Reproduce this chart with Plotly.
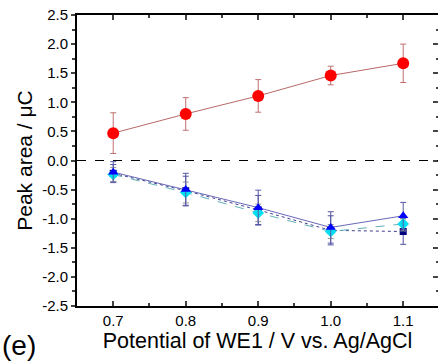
import plotly.graph_objects as go

potential = [0.7, 0.8, 0.9, 1.0, 1.1]

red_vals = [0.47, 0.80, 1.11, 1.46, 1.67]
red_err = [0.35, 0.28, 0.28, 0.16, 0.33]

tri_vals = [-0.20, -0.50, -0.81, -1.15, -0.95]
tri_err = [0.18, 0.28, 0.30, 0.27, 0.23]

sq_vals = [-0.22, -0.52, -0.85, -1.20, -1.22]
sq_err = [0.15, 0.25, 0.25, 0.25, 0.22]

dia_vals = [-0.24, -0.55, -0.90, -1.22, -1.09]
dia_err = [0.12, 0.18, 0.15, 0.12, 0.12]

y_ticks = [-2.5, -2.0, -1.5, -1.0, -0.5, 0.0, 0.5, 1.0, 1.5, 2.0, 2.5]
x_ticks = [0.7, 0.8, 0.9, 1.0, 1.1]

fig = go.Figure()

def add(vals, err, mcolor, lcolor, ecolor, symbol, dash, size):
    fig.add_trace(go.Scatter(
        x=potential, y=vals, mode="lines+markers",
        line=dict(color=lcolor, width=1, dash=dash),
        marker=dict(color=mcolor, symbol=symbol, size=size),
        error_y=dict(type="data", array=err, color=ecolor, thickness=1, width=3),
        showlegend=False))

add(sq_vals, sq_err, "#000080", "#404090", "#5050a0", "square", "dot", 7)
add(dia_vals, dia_err, "#00e0f0", "#60b0b8", "#909898", "diamond", "dash", 9)
add(tri_vals, tri_err, "#0000ff", "#6868b8", "#5858a8", "triangle-up", "solid", 9)
add(red_vals, red_err, "#ff0000", "#b86868", "#c07070", "circle", "solid", 12)

fig.add_hline(y=0, line=dict(color="black", width=1.2, dash="dash"))

# dummy trace to anchor right axis
fig.add_trace(go.Scatter(x=[], y=[], yaxis="y2", showlegend=False))

font = "Liberation Sans, Arial, sans-serif"
fig.update_layout(
    width=438, height=363,
    margin=dict(l=77, r=0, t=15, b=57),
    plot_bgcolor="white", paper_bgcolor="white",
    font=dict(family=font, color="black"),
    xaxis=dict(range=[0.65, 1.148], tickvals=x_ticks, ticktext=[f"{v:.1f}" for v in x_ticks],
               ticks="inside", ticklen=5, tickwidth=1.5, showline=True, linecolor="black",
               linewidth=2, mirror="ticks", showgrid=False, zeroline=False,
               tickfont=dict(size=15),
               minor=dict(ticks="inside", ticklen=3, tickwidth=1.5, dtick=0.05, tick0=0.65),
               title=dict(text="Potential of WE1 / V vs. Ag/AgCl", font=dict(size=21.5), standoff=4)),
    yaxis=dict(range=[-2.5, 2.5], tickvals=y_ticks, ticktext=[f"{v:.1f}" for v in y_ticks],
               ticks="outside", ticklen=4, tickwidth=1.5, showline=True, linecolor="black",
               linewidth=2, showgrid=False, zeroline=False, tickfont=dict(size=15),
               minor=dict(ticks="outside", ticklen=3, tickwidth=1.5, dtick=0.25, tick0=0),
               title=dict(text="Peak area / μC", font=dict(size=21), standoff=4)),
    yaxis2=dict(range=[-2.5, 2.5], overlaying="y", side="right", anchor="x",
                tickvals=y_ticks, ticks="inside", ticklen=5, tickwidth=2,
                showticklabels=False, showline=False, showgrid=False, zeroline=False,
                minor=dict(ticks="inside", ticklen=2, tickwidth=1.5, dtick=0.25, tick0=0)),
)
fig.add_annotation(text="(e)", xref="paper", yref="paper", x=-77/361, y=-57/291,
                   xanchor="left", yanchor="bottom", showarrow=False,
                   font=dict(size=28, family=font))

fig.write_html("out.html")
